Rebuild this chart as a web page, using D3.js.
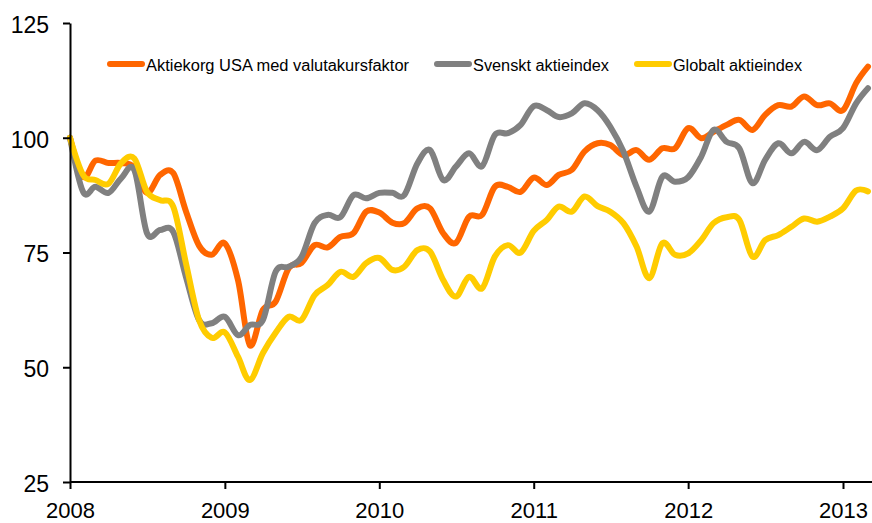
<!DOCTYPE html>
<html>
<head>
<meta charset="utf-8">
<script src="https://cdn.jsdelivr.net/npm/d3@7"></script>
<style>
  html, body { margin: 0; padding: 0; background: #fff; }
  svg { display: block; }
  text { font-family: "Liberation Sans", Arial, sans-serif; fill: #000; }
</style>
</head>
<body>
<svg id="chart" width="872" height="523"></svg>
<script>
// Monthly observations, Jan 2008 .. Mar 2013
const startMonth = "2008-01-01";
const endMonth = "2013-04-01";
const seriesNames = ["Aktiekorg USA med valutakursfaktor", "Svenskt aktieindex", "Globalt aktieindex"];
const seriesColors = ["#FF6600", "#808080", "#FFCC00"];
const usaValues = [100, 91.5, 95, 94.5, 94.5, 93.5, 88, 91.9, 92.3, 84, 76.5, 74.5, 77,
  69, 54.8, 62.5, 64.3, 71.6, 72.7, 76.6, 76.1, 78.4, 79.2, 83.9,
  83.7, 81.5, 81.4, 84.6, 84.6, 79.2, 77.1, 82.8, 83.2, 89.3, 89.3, 88.2,
  91.3, 89.7, 91.9, 93, 97, 98.8, 98.4, 96.2, 97.3, 95.2, 97.7, 97.7,
  102.1, 99.9, 101.3, 102.8, 103.9, 101.7, 105, 107.1, 106.8, 109, 107.1, 107.5,
  106, 111.9, 115.5];
const sweValues = [100, 88.2, 89.3, 88, 91.2, 93, 79.2, 79.9, 79.5, 69.7, 60.3, 59.6, 61,
  57, 59.2, 60.3, 70.8, 71.9, 74, 81.4, 83.2, 82.7, 87.5, 86.8,
  88, 88, 87.5, 94.4, 97.3, 90.8, 93.7, 96.6, 93.8, 100.6, 101, 102.8,
  106.9, 106, 104.5, 105.3, 107.5, 106, 102.4, 97, 89.3, 83.9, 91.5, 90.4,
  91.4, 95.9, 101.7, 99.1, 97.7, 90.1, 95.2, 98.8, 96.6, 99.1, 97.3, 100.2,
  102.1, 107.5, 110.8];
const globalValues = [100, 91.9, 90.8, 90, 94.5, 95.5, 88.2, 86.4, 85, 72.7, 60.3, 56.4, 57.6,
  52.3, 47.2, 53.1, 57.5, 61, 60.3, 65.7, 67.9, 70.8, 69.7, 72.7,
  73.8, 71.2, 71.9, 75.5, 75.2, 69, 65.4, 69.7, 67.2, 74.1, 76.6, 75,
  79.7, 82.1, 85, 83.9, 87.2, 85.1, 83.9, 81.4, 76.3, 69.4, 77, 74.5,
  74.8, 77.7, 81.4, 82.7, 82.1, 74.1, 77.7, 78.8, 80.6, 82.4, 81.7, 82.8,
  84.6, 88.5, 88.3];
const yTicks = [25, 50, 75, 100, 125];
const xTickYears = [2008, 2009, 2010, 2011, 2012, 2013];

const months = d3.timeMonth.range(new Date(startMonth + "T00:00:00"), new Date(endMonth + "T00:00:00"));
const seriesValues = [usaValues, sweValues, globalValues];

const svg = d3.select("#chart");
const x = d3.scaleTime()
  .domain([new Date(2008, 0, 1), new Date(2013, 0, 1)])
  .range([70, 843]);
const y = d3.scaleLinear().domain([25, 125]).range([482, 23]);

// Lines (drawn in series order so the last one is on top)
const line = d3.line()
  .x((d, i) => x(months[i]))
  .y(d => y(d))
  .curve(d3.curveCardinal.tension(0));

seriesValues.forEach((vals, k) => {
  svg.append("path")
    .datum(vals)
    .attr("d", line)
    .attr("fill", "none")
    .attr("stroke", seriesColors[k])
    .attr("stroke-width", 6)
    .attr("stroke-linejoin", "round")
    .attr("stroke-linecap", "round");
});

// Y axis
const yAxis = d3.axisLeft(y).tickValues(yTicks).tickSize(7).tickPadding(14).tickSizeOuter(0);
const gy = svg.append("g").attr("transform", "translate(70,0)").call(yAxis);
gy.select(".domain").attr("stroke", "#000").attr("stroke-width", 2);
gy.selectAll(".tick line").attr("stroke", "#000").attr("stroke-width", 2);
gy.selectAll(".tick text")
  .attr("font-size", 23)
  .attr("font-family", "'Liberation Sans', Arial, sans-serif")
  .attr("dy", "0.41em")
  .attr("fill", "#000");

// X axis
const xAxis = d3.axisBottom(x)
  .tickValues(xTickYears.map(yr => new Date(yr, 0, 1)))
  .tickFormat(d3.timeFormat("%Y"))
  .tickSize(7).tickPadding(13).tickSizeOuter(0);
const gx = svg.append("g").attr("transform", "translate(0,482)").call(xAxis);
gx.select(".domain").attr("d", "M70,0H872").attr("stroke", "#000").attr("stroke-width", 2);
gx.selectAll(".tick line").attr("stroke", "#000").attr("stroke-width", 2);
gx.selectAll(".tick text")
  .attr("font-size", 22)
  .attr("font-family", "'Liberation Sans', Arial, sans-serif")
  .attr("fill", "#000");

// Legend
const legendX = [110, 437, 637];
const legendTextLen = [263, 136, 129];
const lg = svg.append("g");
seriesNames.forEach((name, k) => {
  lg.append("line")
    .attr("x1", legendX[k]).attr("x2", legendX[k] + 32)
    .attr("y1", 64).attr("y2", 64)
    .attr("stroke", seriesColors[k]).attr("stroke-width", 6)
    .attr("stroke-linecap", "round");
  lg.append("text")
    .attr("x", legendX[k] + 36).attr("y", 70.5)
    .attr("font-size", 16)
    .attr("textLength", legendTextLen[k])
    .attr("lengthAdjust", "spacingAndGlyphs")
    .text(name);
});
</script>
</body>
</html>
